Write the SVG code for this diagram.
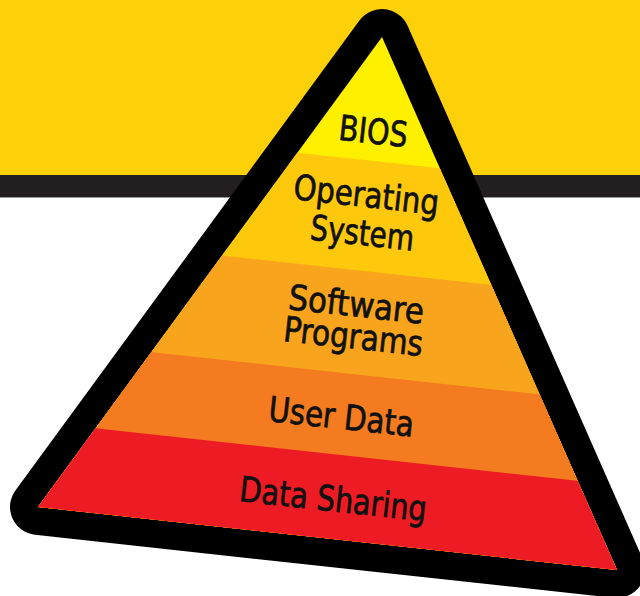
<svg xmlns="http://www.w3.org/2000/svg" width="640" height="596" viewBox="0 0 640 596">
  <style>
    .lbl { font-family: "DejaVu Sans Condensed", "DejaVu Sans", sans-serif; font-size: 35px; fill: #111; stroke: #111; stroke-width: 0.7; text-anchor: middle; }
    .frame { fill: #000; stroke: #000; stroke-width: 56; stroke-linejoin: round; }
  </style>
  <defs>
    <clipPath id="inner">
      <polygon points="382,37 38,507 617,570"/>
    </clipPath>
  </defs>

  <!-- backdrop: yellow band over a dark stripe -->
  <g id="backdrop">
    <rect x="0" y="0" width="640" height="176" fill="#FDD10A"/>
    <rect x="0" y="175" width="640" height="22" fill="#231F20"/>
    <rect x="0" y="197" width="640" height="1" fill="#9a9a9a"/>
  </g>

  <!-- thick rounded black frame of the pyramid -->
  <g id="frame">
    <polygon class="frame" points="382,37 38,507 617,570"/>
  </g>

  <!-- pyramid tiers, clipped to the inner triangle; each tier runs to the base
       and the next one is painted over it, so no seams show between them -->
  <g clip-path="url(#inner)">
    <g id="tier-bios">
      <polygon points="0,0 640,0 640,596 0,596" fill="#FFF000"/>
    </g>
    <g id="tier-os">
      <polygon points="0,120.3 640,190.1 640,596 0,596" fill="#FEC80C"/>
    </g>
    <g id="tier-software">
      <polygon points="0,231.3 640,301.1 640,596 0,596" fill="#F8A51D"/>
    </g>
    <g id="tier-userdata">
      <polygon points="0,335.6 640,405.4 640,596 0,596" fill="#F47B20"/>
    </g>
    <g id="tier-sharing">
      <polygon points="0,417.9 640,487.7 640,596 0,596" fill="#ED1C24"/>
    </g>
  </g>

  <!-- tier labels -->
  <g id="labels">
    <text class="lbl" transform="rotate(6.2 372 143.5)" x="372" y="143.5" textLength="69" lengthAdjust="spacingAndGlyphs">BIOS</text>
    <text class="lbl" transform="rotate(6.2 365 207)" x="365" y="207" textLength="146" lengthAdjust="spacingAndGlyphs">Operating</text>
    <text class="lbl" transform="rotate(6.2 361 245)" x="361" y="245" textLength="104" lengthAdjust="spacingAndGlyphs">System</text>
    <text class="lbl" transform="rotate(6.2 355 316.5)" x="355" y="316.5" textLength="136" lengthAdjust="spacingAndGlyphs">Software</text>
    <text class="lbl" transform="rotate(6.2 352 348.5)" x="352" y="348.5" textLength="140" lengthAdjust="spacingAndGlyphs">Programs</text>
    <text class="lbl" transform="rotate(6.2 340 428.8)" x="340" y="428.8" textLength="146" lengthAdjust="spacingAndGlyphs">User Data</text>
    <text class="lbl" transform="rotate(6.2 332 511.2)" x="332" y="511.2" textLength="188" lengthAdjust="spacingAndGlyphs">Data Sharing</text>
  </g>
</svg>
